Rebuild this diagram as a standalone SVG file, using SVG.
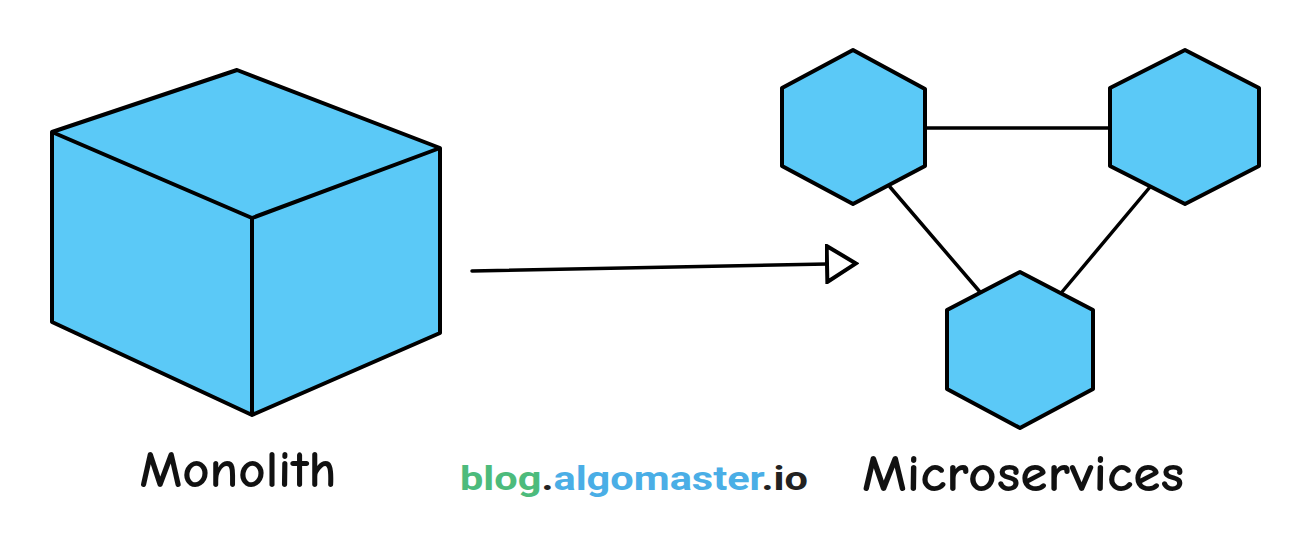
<svg xmlns="http://www.w3.org/2000/svg" width="1312" height="542" viewBox="0 0 1312 542">
<style>
.shape{fill:#5BC9F7;stroke:#000;stroke-width:4;stroke-linejoin:round}
.edge{stroke:#000;stroke-width:3.5;fill:none;stroke-linecap:round}
.label{font-family:"Comic Sans MS","Comic Neue","Noto Sans",sans-serif;font-size:52px;font-weight:bold;fill:#111}
.brand{font-family:Roboto,"Liberation Sans",Arial,sans-serif;font-weight:bold;font-size:34px}
</style>
<defs>
<marker id="open" viewBox="0 0 34 40" refX="2" refY="20" markerWidth="34" markerHeight="40" markerUnits="userSpaceOnUse" orient="auto">
<path d="M2 2 L31 20 L2 38 Z" fill="#fff" stroke="#000" stroke-width="4" stroke-linejoin="miter"/>
</marker>
</defs>
<rect width="1312" height="542" fill="#fff"/>
<g id="monolith">
<polygon class="shape" points="237,70 440,148 440,333 252,415 52,322 52,132"/>
<polyline class="shape" points="52,132 252,218 440,148" style="fill:none"/>
<line x1="252" y1="218" x2="252" y2="415" stroke="#000" stroke-width="4"/>
<text class="label" x="238" y="487" text-anchor="middle" textLength="197" lengthAdjust="spacingAndGlyphs">Monolith</text>
</g>
<g id="connectors">
<line class="edge" x1="925" y1="128" x2="1110" y2="128"/>
<line class="edge" x1="890" y1="187" x2="980" y2="292"/>
<line class="edge" x1="1150" y1="187" x2="1062" y2="292"/>
<path class="edge" d="M472 271 L827 264" marker-end="url(#open)"/>
</g>
<g id="service-1">
<polygon class="shape" points="853,50 925,89 925,166 853,204 782,166 782,88"/>
</g>
<g id="service-2">
<polygon class="shape" points="1185,50 1259,88 1259,166 1185,204 1110,166 1110,88"/>
</g>
<g id="service-3">
<polygon class="shape" points="1020,272 1093,310 1093,389 1020,428 947,389 947,310"/>
</g>
<g id="microservices-label">
<text class="label" x="1023" y="491" text-anchor="middle" textLength="322" lengthAdjust="spacingAndGlyphs">Microservices</text>
</g>
<g id="brand">
<text class="brand" x="460" y="490" textLength="348" lengthAdjust="spacingAndGlyphs"><tspan fill="#4DBB7C">blog</tspan><tspan fill="#222">.</tspan><tspan fill="#4AAEE6">algomaster</tspan><tspan fill="#222">.io</tspan></text>
</g>
</svg>
